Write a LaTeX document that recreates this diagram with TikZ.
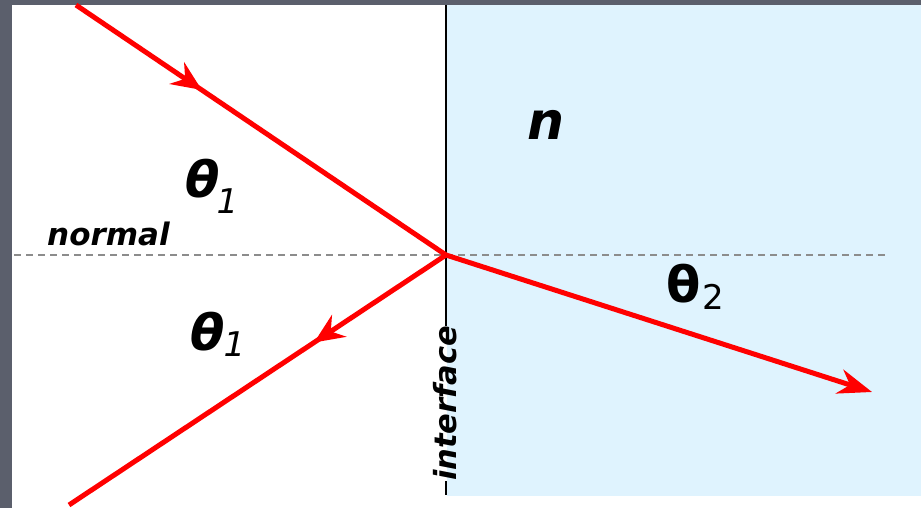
\documentclass[tikz,border=0pt]{standalone}
\usepackage{fontspec}
\setmainfont{DejaVu Sans}
\usetikzlibrary{arrows.meta, decorations.markings}
\definecolor{grisfond}{RGB}{91, 95, 108}
\definecolor{bleuclair}{RGB}{223, 243, 254}
\definecolor{rougevif}{RGB}{255, 0, 0}
\definecolor{grispointille}{RGB}{140, 140, 140}
\tikzset{
  rayon/.style={rougevif, line width=5pt},
  pointe/.style={-{Stealth[length=34pt, width=25pt, inset=11pt]}},
  milieu/.style={postaction={decorate}, decoration={markings,
      mark=at position #1 with {\arrow{Stealth[length=30pt, width=26pt, inset=10pt]}}}},
  etiquette/.style={inner sep=0pt, anchor=base west}
}
\newcommand{\grand}{\fontsize{50}{50}\selectfont}
\newcommand{\indice}{\fontsize{34}{34}\selectfont\mdseries}

\begin{document}
\begin{tikzpicture}[x=1pt, y=-1pt]
    % fond et milieu d'indice n
    \fill[grisfond] (0,0) rectangle (921,508);
    \fill[white] (12,5) rectangle (921,508);
    \fill[bleuclair] (447,5) rectangle (921,496);
    % normale
    \draw[grispointille, line width=2.8pt, dash pattern=on 7pt off 5pt] (14,255) -- (885,255);
    % interface
    \node[etiquette, rotate=90, font=\fontsize{30.5}{30.5}\selectfont\bfseries\itshape] (iface) at (456,481) {interface};
    \coordinate (haut) at (446,5);
    \coordinate (bas) at (446,495);
    \draw[line width=2pt] (haut) -- (haut |- iface.east);
    \draw[line width=2pt] (bas |- iface.west) -- (bas);
    % rayons
    \coordinate (I) at (446,255);
    \coordinate (A) at (76,5);
    \coordinate (R) at (69,505);
    \coordinate (T) at (872,392);
    \draw[rayon, milieu=0.34] (A) -- (I);
    \draw[rayon, milieu=0.35] (I) -- (R);
    \draw[rayon, pointe] (I) -- (T);
    % textes
    \node[etiquette, font=\fontsize{31}{31}\selectfont\bfseries\itshape] (normale) at (47,245) {normal};
    \node[etiquette, font=\fontsize{52}{52}\selectfont\bfseries\itshape] (n) at (527,140) {n};
    \node[etiquette, font=\bfseries\itshape] (t1a) at (185,197) {\grand θ\kern-3pt\raisebox{-16pt}{\indice 1}};
    \node[etiquette, font=\bfseries\itshape] (t1b) at (190,350) {\grand θ\kern-1pt\raisebox{-6pt}{\indice 1}};
    \node[etiquette, font=\bfseries] (t2) at (666,302) {\grand θ\kern2pt\raisebox{-7pt}{\indice 2}};
\end{tikzpicture}
\end{document}
